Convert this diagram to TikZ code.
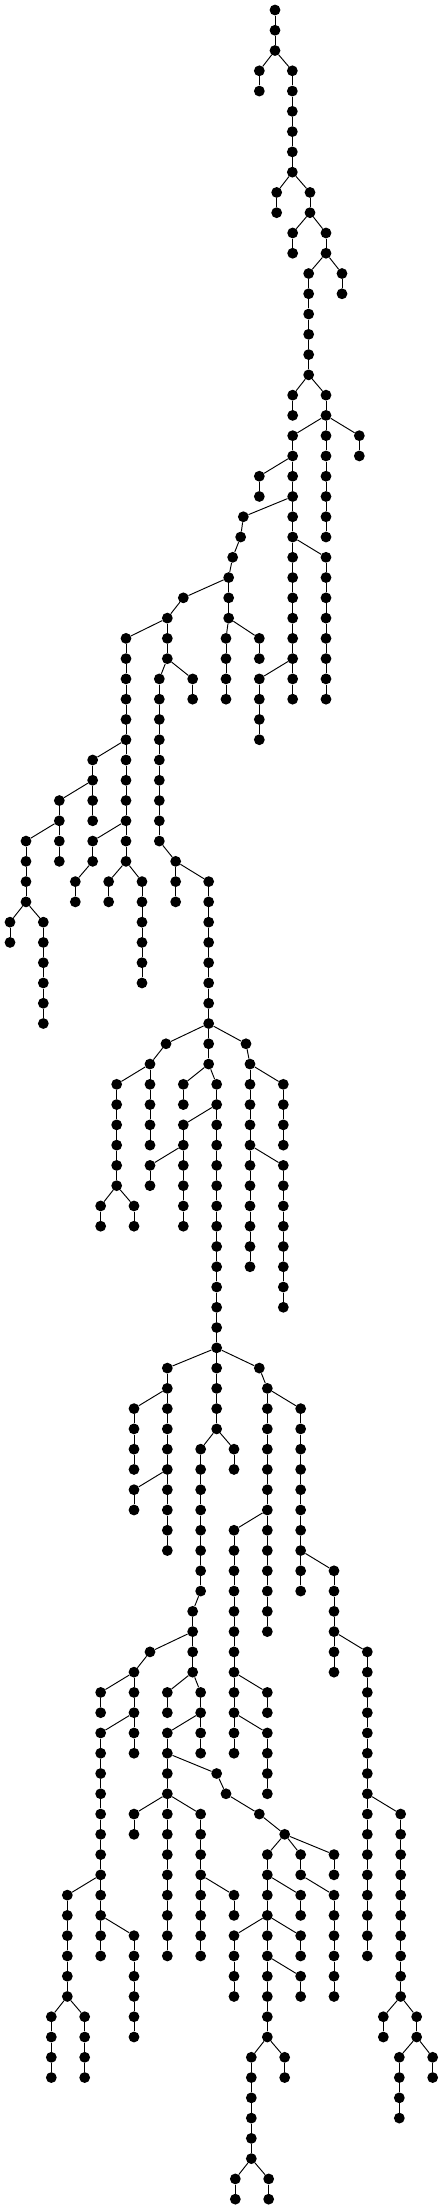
\documentclass[tikz,border=0pt]{standalone}
\tikzset{dot/.style={circle,fill=black,inner sep=0pt,minimum size=10.8pt},
  edge/.style={line width=0.95pt,black}}
\newcommand\mychain[3]{%
  \foreach \lv in {#2,...,#3}{%
    \node[dot] (p#1x\lv) at ({#1/3},{10+20.27*\lv}) {};
    \ifnum\lv>#2 \pgfmathtruncatemacro\pl{\lv-1}\draw[edge] (p#1x\pl) -- (p#1x\lv);\fi
  }}
\newcommand\myedge[4]{\draw[edge] (p#1x#2) -- (p#3x#4);}
\begin{document}
\begin{tikzpicture}[x=1pt,y=-1pt]
\useasboundingbox (0,0) rectangle (443,2209);
\mychain{825}{0}{2}
\mychain{778}{3}{4} \myedge{825}{2}{778}{3}
\mychain{877}{3}{8} \myedge{825}{2}{877}{3}
\mychain{830}{9}{10} \myedge{877}{8}{830}{9}
\mychain{930}{9}{10} \myedge{877}{8}{930}{9}
\mychain{878}{11}{12} \myedge{930}{10}{878}{11}
\mychain{978}{11}{12} \myedge{930}{10}{978}{11}
\mychain{926}{13}{18} \myedge{978}{12}{926}{13}
\mychain{1026}{13}{14} \myedge{978}{12}{1026}{13}
\mychain{878}{19}{20} \myedge{926}{18}{878}{19}
\mychain{978}{19}{26} \myedge{926}{18}{978}{19}
\mychain{878}{21}{34} \myedge{978}{20}{878}{21}
\mychain{1078}{21}{22} \myedge{978}{20}{1078}{21}
\mychain{778}{23}{24} \myedge{878}{22}{778}{23}
\mychain{730}{25}{25} \myedge{878}{24}{730}{25}
\mychain{722}{26}{26} \myedge{730}{25}{722}{26}
\mychain{698}{27}{27} \myedge{722}{26}{698}{27}
\mychain{686}{28}{30} \myedge{698}{27}{686}{28}
\mychain{550}{29}{29} \myedge{686}{28}{550}{29}
\mychain{502}{30}{32} \myedge{550}{29}{502}{30}
\mychain{378}{31}{42} \myedge{502}{30}{378}{31}
\mychain{478}{33}{41} \myedge{502}{32}{478}{33}
\mychain{578}{33}{34} \myedge{502}{32}{578}{33}
\mychain{678}{31}{34} \myedge{686}{30}{678}{31}
\mychain{778}{31}{32} \myedge{686}{30}{778}{31}
\mychain{978}{27}{34} \myedge{878}{26}{978}{27}
\mychain{778}{33}{36} \myedge{878}{32}{778}{33}
\mychain{278}{37}{40} \myedge{378}{36}{278}{37}
\mychain{178}{39}{42} \myedge{278}{38}{178}{39}
\mychain{78}{41}{44} \myedge{178}{40}{78}{41}
\mychain{30}{45}{46} \myedge{78}{44}{30}{45}
\mychain{130}{45}{50} \myedge{78}{44}{130}{45}
\mychain{278}{41}{42} \myedge{378}{40}{278}{41}
\mychain{226}{43}{44} \myedge{278}{42}{226}{43}
\mychain{326}{43}{44} \myedge{378}{42}{326}{43}
\mychain{426}{43}{48} \myedge{378}{42}{426}{43}
\mychain{527}{42}{44} \myedge{478}{41}{527}{42}
\mychain{626}{43}{52} \myedge{527}{42}{626}{43}
\mychain{498}{51}{51} \myedge{626}{50}{498}{51}
\mychain{450}{52}{56} \myedge{498}{51}{450}{52}
\mychain{350}{53}{58} \myedge{450}{52}{350}{53}
\mychain{302}{59}{60} \myedge{350}{58}{302}{59}
\mychain{402}{59}{60} \myedge{350}{58}{402}{59}
\mychain{738}{51}{51} \myedge{626}{50}{738}{51}
\mychain{750}{52}{62} \myedge{738}{51}{750}{52}
\mychain{850}{53}{56} \myedge{750}{52}{850}{53}
\mychain{850}{57}{64} \myedge{750}{56}{850}{57}
\mychain{550}{53}{54} \myedge{626}{52}{550}{53}
\mychain{650}{53}{70} \myedge{626}{52}{650}{53}
\mychain{550}{55}{60} \myedge{650}{54}{550}{55}
\mychain{450}{57}{58} \myedge{550}{56}{450}{57}
\mychain{502}{67}{76} \myedge{650}{66}{502}{67}
\mychain{402}{69}{72} \myedge{502}{68}{402}{69}
\mychain{402}{73}{74} \myedge{502}{72}{402}{73}
\mychain{778}{67}{67} \myedge{650}{66}{778}{67}
\mychain{802}{68}{80} \myedge{778}{67}{802}{68}
\mychain{902}{69}{78} \myedge{802}{68}{902}{69}
\mychain{1002}{77}{82} \myedge{902}{76}{1002}{77}
\mychain{1102}{81}{96} \myedge{1002}{80}{1102}{81}
\mychain{1202}{89}{98} \myedge{1102}{88}{1202}{89}
\mychain{1150}{99}{100} \myedge{1202}{98}{1150}{99}
\mychain{1250}{99}{100} \myedge{1202}{98}{1250}{99}
\mychain{1198}{101}{104} \myedge{1250}{100}{1198}{101}
\mychain{1298}{101}{102} \myedge{1250}{100}{1298}{101}
\mychain{702}{75}{86} \myedge{802}{74}{702}{75}
\mychain{802}{83}{84} \myedge{702}{82}{802}{83}
\mychain{802}{85}{88} \myedge{702}{84}{802}{85}
\mychain{602}{71}{78} \myedge{650}{70}{602}{71}
\mychain{702}{71}{72} \myedge{650}{70}{702}{71}
\mychain{578}{79}{82} \myedge{602}{78}{578}{79}
\mychain{450}{81}{81} \myedge{578}{80}{450}{81}
\mychain{402}{82}{86} \myedge{450}{81}{402}{82}
\mychain{302}{83}{84} \myedge{402}{82}{302}{83}
\mychain{302}{85}{96} \myedge{402}{84}{302}{85}
\mychain{202}{93}{98} \myedge{302}{92}{202}{93}
\mychain{154}{99}{102} \myedge{202}{98}{154}{99}
\mychain{254}{99}{102} \myedge{202}{98}{254}{99}
\mychain{402}{95}{100} \myedge{302}{94}{402}{95}
\mychain{502}{83}{84} \myedge{578}{82}{502}{83}
\mychain{602}{83}{86} \myedge{578}{82}{602}{83}
\mychain{502}{85}{96} \myedge{602}{84}{502}{85}
\mychain{650}{87}{87} \myedge{502}{86}{650}{87}
\mychain{678}{88}{88} \myedge{650}{87}{678}{88}
\mychain{778}{89}{89} \myedge{678}{88}{778}{89}
\mychain{854}{90}{90} \myedge{778}{89}{854}{90}
\mychain{802}{91}{100} \myedge{854}{90}{802}{91}
\mychain{902}{93}{94} \myedge{802}{92}{902}{93}
\mychain{702}{95}{98} \myedge{802}{94}{702}{95}
\mychain{902}{95}{96} \myedge{802}{94}{902}{95}
\mychain{902}{97}{98} \myedge{802}{96}{902}{97}
\mychain{754}{101}{106} \myedge{802}{100}{754}{101}
\mychain{706}{107}{108} \myedge{754}{106}{706}{107}
\mychain{806}{107}{108} \myedge{754}{106}{806}{107}
\mychain{854}{101}{102} \myedge{802}{100}{854}{101}
\mychain{902}{91}{92} \myedge{854}{90}{902}{91}
\mychain{1002}{93}{98} \myedge{902}{92}{1002}{93}
\mychain{1002}{91}{92} \myedge{854}{90}{1002}{91}
\mychain{402}{89}{90} \myedge{502}{88}{402}{89}
\mychain{602}{89}{96} \myedge{502}{88}{602}{89}
\mychain{702}{93}{94} \myedge{602}{92}{702}{93}
\end{tikzpicture}
\end{document}
